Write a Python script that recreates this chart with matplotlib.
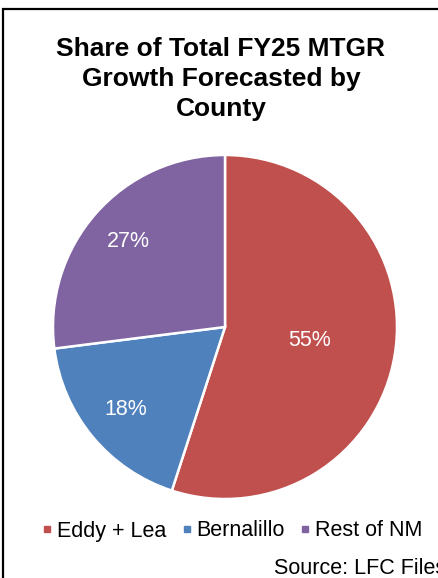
import matplotlib.pyplot as plt
from matplotlib.lines import Line2D

plt.rcParams['font.family'] = ['Liberation Sans', 'DejaVu Sans']

counties = ['Eddy + Lea', 'Bernalillo', 'Rest of NM']
shares = [55, 18, 27]
colors = ['#C0504D', '#4F81BD', '#8064A2']

W, H = 439, 578
fig = plt.figure(figsize=(W / 100, H / 100), dpi=100)

# outer frame (right and bottom edges fall outside the picture)
frame = plt.Rectangle((3 / W, -0.05), 1.1, 1 - 9 / H + 0.05, transform=fig.transFigure,
                      fill=False, edgecolor='black', linewidth=1.6, clip_on=False)
fig.patches.append(frame)

cx, cy, r = 225, 327, 172
ax = fig.add_axes([(cx - r) / W, (H - cy - r) / H, 2 * r / W, 2 * r / H])
wedges, texts, autotexts = ax.pie(shares, colors=colors, startangle=90, counterclock=False,
                                  autopct='%1.0f%%', pctdistance=0.75,
                                  wedgeprops=dict(edgecolor='white', linewidth=1.8),
                                  textprops=dict(color='white', fontsize=15.5))
# first label sits nearer the centre in the original
x0, y0 = autotexts[0].get_position()
autotexts[0].set_position((x0 * 0.5 / 0.75, y0 * 0.5 / 0.75))
ax.set_xlim(-1, 1)
ax.set_ylim(-1, 1)
ax.set_aspect('equal')
ax.axis('off')

fig.text(221 / W, 1 - 37 / H, 'Share of Total FY25 MTGR\nGrowth Forecasted by\nCounty',
         ha='center', va='top', fontsize=19, fontweight='bold', linespacing=1.31)

handles = [Line2D([], [], marker='s', linestyle='none', markersize=4.5, color=c) for c in colors]
fig.legend(handles, counties, loc='center', bbox_to_anchor=(231 / W, 1 - 531 / H),
           ncol=3, frameon=False, fontsize=15.5, handletextpad=0.1, columnspacing=0.6,
           handlelength=0.7)

fig.text(274 / W, 1 - 568 / H, 'Source: LFC Files', ha='left', va='center', fontsize=15.5)

fig.savefig('out.png', dpi=100)
